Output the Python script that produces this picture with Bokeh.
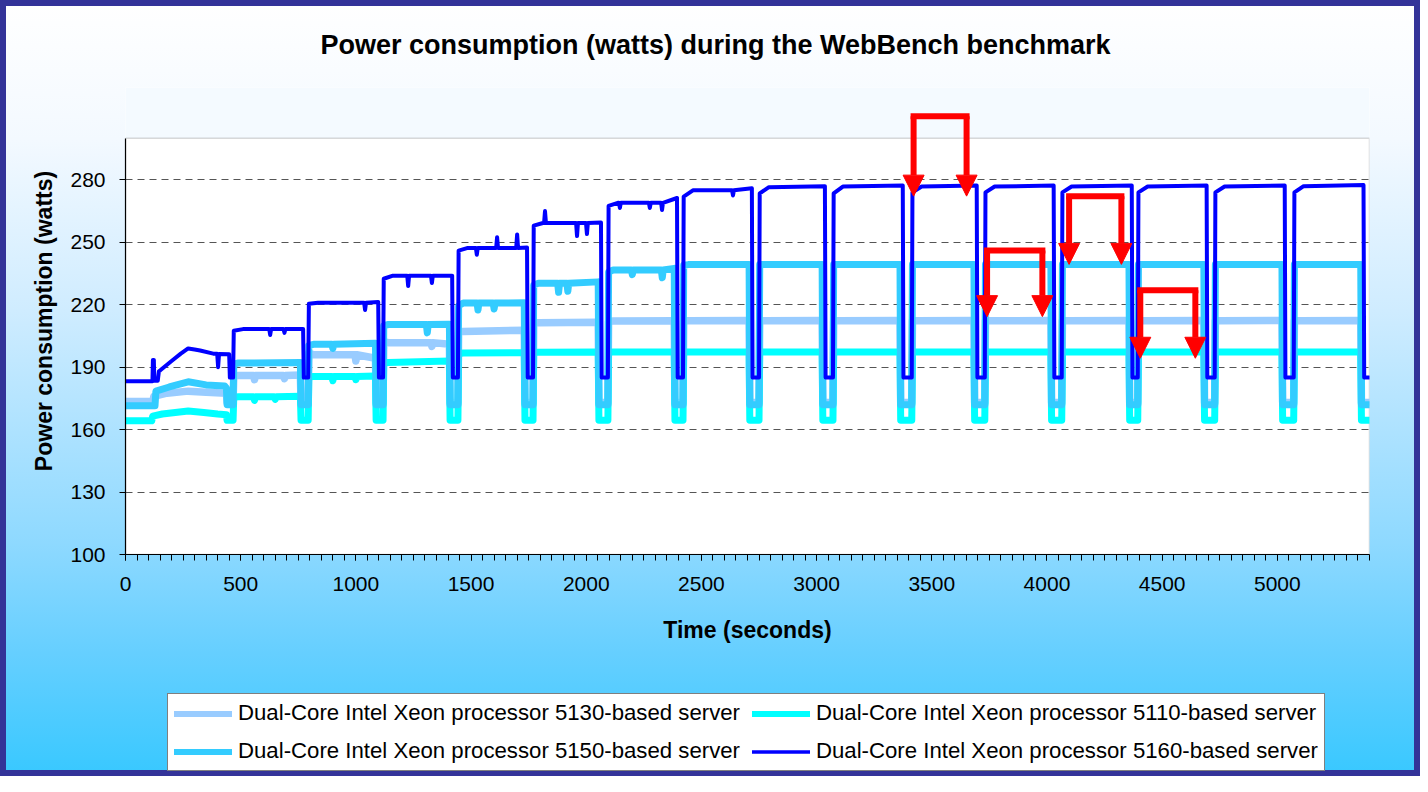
from bokeh.plotting import figure
from bokeh.layouts import column
from bokeh.models import (FixedTicker, SingleIntervalTicker, Legend, LegendItem,
                          Arrow, NormalHead, Range1d, BoxAnnotation)
from bokeh.embed import file_html
from bokeh.resources import INLINE

FONT = "Liberation Sans"

# ---------------- data ----------------
series_names = [
    "Dual-Core Intel Xeon processor 5130-based server",
    "Dual-Core Intel Xeon processor 5110-based server",
    "Dual-Core Intel Xeon processor 5150-based server",
    "Dual-Core Intel Xeon processor 5160-based server",
]
series_colors = ["#99CCFF", "#00FFFF", "#33CCFF", "#0000FF"]

# load-step boundaries (seconds)
step_start = [0, 467, 793, 1118, 1443, 1769, 2094, 2420, 2750, 3071, 3413, 3730, 4064, 4394, 4728, 5071]
step_end = [450, 771, 1097, 1418, 1743, 2064, 2394, 2719, 3036, 3374, 3695, 4029, 4368, 4693, 5032, 5374]

# ---- 5130 ----
s5130_step1_t = [0, 119, 123, 180, 272, 350, 438]
s5130_step1_v = [173.5, 173.5, 176.0, 177.5, 178.5, 178.0, 177.5]
s5130_rise = [185.8, 196.8, 202.2, 206.8, 211.0, 212.0, 212.3, 212.3, 212.3, 212.3, 212.3, 212.3, 212.3, 212.3, 212.3]
s5130_flat = [186.0, 196.0, 201.8, 207.2, 211.4, 212.2, 212.3, 212.3, 212.3, 212.3, 212.3, 212.3, 212.3, 212.3, 212.3]
s5130_end = [186.2, 194.3, 201.0, 207.8, 211.6, 212.3, 212.4, 212.4, 212.4, 212.4, 212.4, 212.4, 212.4, 212.4, 212.4]
s5130_idle = 173.0
s5130_spikes = [(560, 184.0), (690, 184.5), (1000, 193.0), (1330, 200.0)]

# ---- 5110 ----
s5110_step1_t = [0, 114, 118, 160, 272, 340, 400, 438]
s5110_step1_v = [164.3, 164.3, 166.5, 167.5, 169.0, 168.2, 167.5, 167.2]
s5110_rise = [175.6, 185.3, 192.0, 196.5, 197.1, 197.2, 197.3, 197.3, 197.3, 197.3, 197.3, 197.3, 197.3, 197.3, 197.3]
s5110_flat = [175.8, 185.5, 192.3, 196.8, 197.2, 197.3, 197.3, 197.3, 197.3, 197.3, 197.3, 197.3, 197.3, 197.3, 197.3]
s5110_end = [176.0, 185.8, 193.0, 197.0, 197.3, 197.3, 197.3, 197.3, 197.3, 197.3, 197.3, 197.3, 197.3, 197.3, 197.3]
s5110_idle = 164.5
s5110_spikes = [(560, 174.0), (650, 174.5), (900, 183.5), (1000, 184.0)]

# ---- 5150 ----
s5150_step1_t = [0, 128, 132, 190, 272, 350, 430, 438]
s5150_step1_v = [171.5, 171.5, 178.5, 180.5, 183.0, 181.5, 181.0, 180.0]
s5150_rise = [191.5, 200.5, 210.0, 219.5, 229.5, 235.8, 239.0, 239.3, 239.3, 239.3, 239.3, 239.3, 239.3, 239.3, 239.3]
s5150_flat = [192.0, 201.0, 210.5, 220.8, 230.3, 236.7, 239.3, 239.3, 239.3, 239.3, 239.3, 239.3, 239.3, 239.3, 239.3]
s5150_end = [192.2, 201.5, 210.6, 221.0, 231.0, 237.5, 239.4, 239.4, 239.4, 239.4, 239.4, 239.4, 239.4, 239.4, 239.4]
s5150_idle = 172.0
s5150_spikes = [(900, 199.0), (1310, 206.5), (1530, 217.5), (1600, 218.0), (1880, 226.0), (1920, 226.5),
                (2200, 234.5), (2330, 233.0)]

# ---- 5160 ----
s5160_step1_t = [0, 117, 119, 123, 125, 140, 145, 151, 200, 240, 272, 300, 324, 381, 398, 402, 406, 450]
s5160_step1_v = [183.3, 183.3, 193.5, 193.5, 183.5, 183.5, 188.0, 188.5, 193.0, 196.5, 199.0, 198.5, 198.0, 196.5, 196.5, 190.0, 196.3, 196.2]
s5160_rise = [207.5, 220.5, 232.5, 246.0, 258.0, 267.5, 272.0, 273.5, 273.5, 274.0, 274.0, 274.0, 274.0, 274.0, 274.0]
s5160_flat = [208.3, 221.0, 234.0, 247.3, 259.3, 269.0, 275.0, 276.5, 276.8, 276.8, 276.8, 276.8, 276.8, 276.8, 277.0]
s5160_end = [208.3, 221.3, 234.0, 247.5, 259.5, 271.3, 276.0, 277.0, 277.3, 277.3, 277.3, 277.3, 277.3, 277.3, 277.5]
s5160_idle = 185.0
s5160_spikes = [(500, 205.5), (628, 205.5), (690, 206.5), (800, 226.5), (837, 218.6), (1040, 217.5),
                (1227, 229.0), (1330, 230.5), (1482, 243.5), (1525, 244.0), (1613, 252.5), (1700, 253.8),
                (1821, 265.0), (1960, 253.0), (2003, 254.0), (2146, 266.5), (2276, 266.5), (2329, 265.5),
                (2637, 272.5)]

# red annotation arrows (time in s, watts)
arrow_left_t = [3421, 3740, 4096, 4405]
arrow_right_t = [3651, 3980, 4323, 4644]
arrow_top_v = [310.6, 246.1, 272.2, 227.0]
arrow_tip_v = [272.2, 214.3, 239.4, 194.3]

x_ticks_major = 500
y_ticks = [100, 130, 160, 190, 220, 250, 280]
y_min, y_max = 100, 300
x_min, x_max = 0, 5400

# --------------- path assembly from the read values ---------------
def build(step1_t, step1_v, rise, flat, end, idle, spikes, drop_off, rise_off, curve):
    t = list(step1_t)
    v = list(step1_v)
    for i in range(1, 16):
        d = step_end[i - 1] + drop_off
        s = step_start[i] + rise_off
        e = step_end[i] + drop_off
        t += [d + 3, s, s + 3, s + 3 + curve]
        v += [idle, idle, rise[i - 1], flat[i - 1]]
        for (st, sv) in spikes:
            if s + 3 + curve + 4 < st < e - 4:
                t += [st - 4, st, st + 4]
                v += [flat[i - 1], sv, flat[i - 1]]
        t.append(e)
        v.append(end[i - 1])
    t += [step_end[15] + drop_off + 3, x_max]
    v += [idle, idle]
    return t, v

series = [
    build(s5130_step1_t, s5130_step1_v, s5130_rise, s5130_flat, s5130_end, s5130_idle, s5130_spikes, -12, 0, 20),
    build(s5110_step1_t, s5110_step1_v, s5110_rise, s5110_flat, s5110_end, s5110_idle, s5110_spikes, -12, 0, 20),
    build(s5150_step1_t, s5150_step1_v, s5150_rise, s5150_flat, s5150_end, s5150_idle, s5150_spikes, -12, 0, 20),
    build(s5160_step1_t, s5160_step1_v, s5160_rise, s5160_flat, s5160_end, s5160_idle, s5160_spikes, 0, 0, 40),
]
line_widths = [7.5, 7, 7, 4]
legend_line_widths = [6, 6, 6, 3.5]

# ---------------- main chart ----------------
# the frame is extended a little above 300 W so the top arrow fits; that strip is
# painted like the chart background and the axis is bounded to 100-300
p = figure(width=1420, height=660, output_backend="svg", toolbar_location=None,
           x_range=Range1d(x_min, x_max), y_range=Range1d(y_min, 324.4),
           min_border_left=125, min_border_right=51, min_border_top=85, min_border_bottom=106)
p.border_fill_color = None
p.background_fill_color = "white"
p.outline_line_color = None

p.title.text = "Power consumption (watts) during the WebBench benchmark"
p.title.text_font = FONT
p.title.text_font_size = "27px"
p.title.text_font_style = "bold"
p.title.text_color = "black"
p.title.align = "left"
p.title.offset = 195
p.title.standoff = 55

p.add_layout(BoxAnnotation(bottom=y_max, fill_color="#F4FAFF", fill_alpha=1.0,
                           line_color=None, level="underlay"))
p.add_layout(BoxAnnotation(left=x_min, right=x_max, bottom=y_min, top=y_max,
                           fill_alpha=0, line_color="#808080", line_width=1.5, level="underlay"))

p.xaxis.ticker = SingleIntervalTicker(interval=x_ticks_major, num_minor_ticks=10)
p.yaxis.ticker = FixedTicker(ticks=y_ticks)
p.yaxis.bounds = (y_min, y_max)
for ax in (p.xaxis, p.yaxis):
    ax.axis_line_color = "black"
    ax.axis_line_width = 1.2
    ax.major_tick_line_color = "black"
    ax.minor_tick_line_color = "black"
    ax.major_tick_in = 0
    ax.major_tick_out = 6
    ax.minor_tick_in = 0
    ax.minor_tick_out = 6
    ax.major_label_text_font = FONT
    ax.major_label_text_font_size = "21px"
    ax.major_label_text_color = "black"
    ax.axis_label_text_font = FONT
    ax.axis_label_text_font_size = "23px"
    ax.axis_label_text_font_style = "bold"
    ax.axis_label_text_color = "black"
p.yaxis.minor_tick_line_color = None
p.xaxis.axis_label = "Time (seconds)"
p.yaxis.axis_label = "Power consumption (watts)"
p.xaxis.major_label_standoff = 16
p.yaxis.major_label_standoff = 14
p.xaxis.axis_label_standoff = 23
p.yaxis.axis_label_standoff = 10

p.xgrid.grid_line_color = None
p.ygrid.ticker = FixedTicker(ticks=y_ticks[1:])
p.ygrid.grid_line_color = "#555555"
p.ygrid.grid_line_dash = "7 5"
p.ygrid.grid_line_width = 1

for (t, v), c, w in zip(series, series_colors, line_widths):
    p.line(t, v, line_color=c, line_width=w, line_join="round", line_cap="round")

for lt, rt, tv, hv in zip(arrow_left_t, arrow_right_t, arrow_top_v, arrow_tip_v):
    p.add_layout(Arrow(x_start=lt, y_start=tv, x_end=rt, y_end=tv, end=None,
                       line_color="#FF0000", line_width=6, line_cap="square"))
    for xx in (lt, rt):
        p.add_layout(Arrow(x_start=xx, y_start=tv, x_end=xx, y_end=hv,
                           end=NormalHead(size=21, fill_color="#FF0000", line_color="#FF0000"),
                           line_color="#FF0000", line_width=6, line_cap="butt"))

# ---------------- legend strip ----------------
# (same series drawn again, but out of view, so that the legend has glyphs)
q = figure(width=1420, height=116, output_backend="svg", toolbar_location=None,
           x_axis_type=None, y_axis_type=None, x_range=Range1d(x_min, x_max), y_range=Range1d(0, 1),
           min_border=0)
q.border_fill_color = None
q.background_fill_color = None
q.outline_line_color = None
q.xgrid.grid_line_color = None
q.ygrid.grid_line_color = None
legend_renderers = [q.line(t, v, line_color=c, line_width=w, line_cap="round")
                    for (t, v), c, w in zip(series, series_colors, legend_line_widths)]
legend = Legend(
    items=[LegendItem(label=n, renderers=[r]) for n, r in zip(series_names, legend_renderers)],
    location=(42, 5), orientation="horizontal", ncols=2,
    label_text_font=FONT, label_text_font_size="22.2px", label_text_color="black",
    glyph_width=58, glyph_height=25, label_standoff=6, padding=6, spacing=12, margin=0,
    border_line_color="black", border_line_width=1,
    background_fill_color="white", background_fill_alpha=1.0,
)
q.add_layout(legend)

page = column(p, q, spacing=0)
page.styles = {
    "background": "linear-gradient(to bottom, #FFFFFF 0%, #F3F9FF 18%, #CFECFF 40%, #8ED9FF 70%, #66CFFF 84%, #38C8FF 100%)",
    "box-shadow": "inset 0 0 0 6px #333399",
}

open("out.html", "w").write(file_html(page, INLINE))
